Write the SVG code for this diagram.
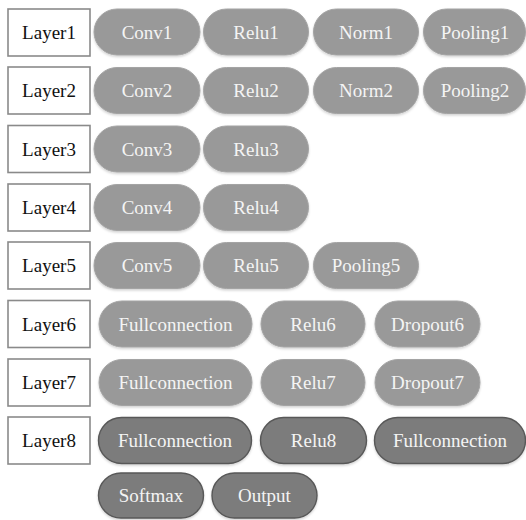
<svg xmlns="http://www.w3.org/2000/svg" width="526" height="520" viewBox="0 0 526 520">
  <defs>
    <filter id="sh" x="-10%" y="-20%" width="120%" height="150%">
      <feDropShadow dx="0" dy="1.5" stdDeviation="1.2" flood-color="#000" flood-opacity="0.18"/>
    </filter>
  </defs>
  <style>
    text { font-family: 'Liberation Serif', 'DejaVu Serif', 'Noto Serif', serif; font-size: 19px; text-anchor: middle; }
    .layer rect { fill: #fff; stroke: #8a8a8a; stroke-width: 1.6; }
    .layer text { fill: #111; }
    .op rect { fill: #999; stroke: #a4a4a4; stroke-width: 1; filter: url(#sh); }
    .op.dark rect { fill: #7c7c7c; stroke: #585858; stroke-width: 1.4; }
    .op text { fill: #f4f4f4; }
  </style>
  <rect width="526" height="520" fill="#fff"/>

  <!-- layer labels -->
  <g id="layer1" class="layer"><rect x="8" y="9" width="82" height="47"/><text x="49" y="39" font-family="Liberation Serif, serif">Layer1</text></g>
  <g id="layer2" class="layer"><rect x="8" y="67" width="82" height="47"/><text x="49" y="97">Layer2</text></g>
  <g id="layer3" class="layer"><rect x="8" y="125.5" width="82" height="47"/><text x="49" y="155.5">Layer3</text></g>
  <g id="layer4" class="layer"><rect x="8" y="184" width="82" height="47"/><text x="49" y="214">Layer4</text></g>
  <g id="layer5" class="layer"><rect x="8" y="242" width="82" height="47"/><text x="49" y="272">Layer5</text></g>
  <g id="layer6" class="layer"><rect x="8" y="300.5" width="82" height="47"/><text x="49" y="330.5">Layer6</text></g>
  <g id="layer7" class="layer"><rect x="8" y="359" width="82" height="47"/><text x="49" y="389">Layer7</text></g>
  <g id="layer8" class="layer"><rect x="8" y="417" width="82" height="47"/><text x="49" y="447">Layer8</text></g>

  <!-- row 1 -->
  <g id="conv1" class="op"><rect x="94" y="9" width="106" height="46" rx="23"/><text x="147" y="38.5">Conv1</text></g>
  <g id="relu1" class="op"><rect x="203.5" y="9" width="105" height="46" rx="23"/><text x="256" y="38.5">Relu1</text></g>
  <g id="norm1" class="op"><rect x="313.5" y="9" width="105" height="46" rx="23"/><text x="366" y="38.5">Norm1</text></g>
  <g id="pooling1" class="op"><rect x="423.5" y="9" width="102" height="46" rx="23"/><text x="475" y="38.5">Pooling1</text></g>

  <!-- row 2 -->
  <g id="conv2" class="op"><rect x="94" y="67.5" width="106" height="46" rx="23"/><text x="147" y="97">Conv2</text></g>
  <g id="relu2" class="op"><rect x="203.5" y="67.5" width="105" height="46" rx="23"/><text x="256" y="97">Relu2</text></g>
  <g id="norm2" class="op"><rect x="313.5" y="67.5" width="105" height="46" rx="23"/><text x="366" y="97">Norm2</text></g>
  <g id="pooling2" class="op"><rect x="423.5" y="67.5" width="102" height="46" rx="23"/><text x="475" y="97">Pooling2</text></g>

  <!-- row 3 -->
  <g id="conv3" class="op"><rect x="94" y="126" width="106" height="46" rx="23"/><text x="147" y="155.5">Conv3</text></g>
  <g id="relu3" class="op"><rect x="203.5" y="126" width="105" height="46" rx="23"/><text x="256" y="155.5">Relu3</text></g>

  <!-- row 4 -->
  <g id="conv4" class="op"><rect x="94" y="184.5" width="106" height="46" rx="23"/><text x="147" y="214">Conv4</text></g>
  <g id="relu4" class="op"><rect x="203.5" y="184.5" width="105" height="46" rx="23"/><text x="256" y="214">Relu4</text></g>

  <!-- row 5 -->
  <g id="conv5" class="op"><rect x="94" y="242.5" width="106" height="46" rx="23"/><text x="147" y="272">Conv5</text></g>
  <g id="relu5" class="op"><rect x="203.5" y="242.5" width="105" height="46" rx="23"/><text x="256" y="272">Relu5</text></g>
  <g id="pooling5" class="op"><rect x="313.5" y="242.5" width="105" height="46" rx="23"/><text x="366" y="272">Pooling5</text></g>

  <!-- row 6 -->
  <g id="fc6" class="op"><rect x="99" y="301" width="153" height="46" rx="23"/><text x="175.5" y="330.5">Fullconnection</text></g>
  <g id="relu6" class="op"><rect x="261" y="301" width="104" height="46" rx="23"/><text x="313" y="330.5">Relu6</text></g>
  <g id="dropout6" class="op"><rect x="375" y="301" width="105" height="46" rx="23"/><text x="427.5" y="330.5">Dropout6</text></g>

  <!-- row 7 -->
  <g id="fc7" class="op"><rect x="99" y="359.5" width="153" height="46" rx="23"/><text x="175.5" y="389">Fullconnection</text></g>
  <g id="relu7" class="op"><rect x="261" y="359.5" width="104" height="46" rx="23"/><text x="313" y="389">Relu7</text></g>
  <g id="dropout7" class="op"><rect x="375" y="359.5" width="105" height="46" rx="23"/><text x="427.5" y="389">Dropout7</text></g>

  <!-- row 8 -->
  <g id="fc8" class="op dark"><rect x="98.5" y="417.5" width="153" height="46" rx="23"/><text x="175" y="447">Fullconnection</text></g>
  <g id="relu8" class="op dark"><rect x="260.5" y="417.5" width="106" height="46" rx="23"/><text x="313.5" y="447">Relu8</text></g>
  <g id="fc8b" class="op dark"><rect x="374.5" y="417.5" width="151" height="46" rx="23"/><text x="450" y="447">Fullconnection</text></g>

  <!-- final row -->
  <g id="softmax" class="op dark"><rect x="98.5" y="473" width="105" height="45" rx="22.5"/><text x="151" y="502">Softmax</text></g>
  <g id="output" class="op dark"><rect x="212" y="473" width="105" height="45" rx="22.5"/><text x="264.5" y="502">Output</text></g>

  <g id="connectors"/>
</svg>
